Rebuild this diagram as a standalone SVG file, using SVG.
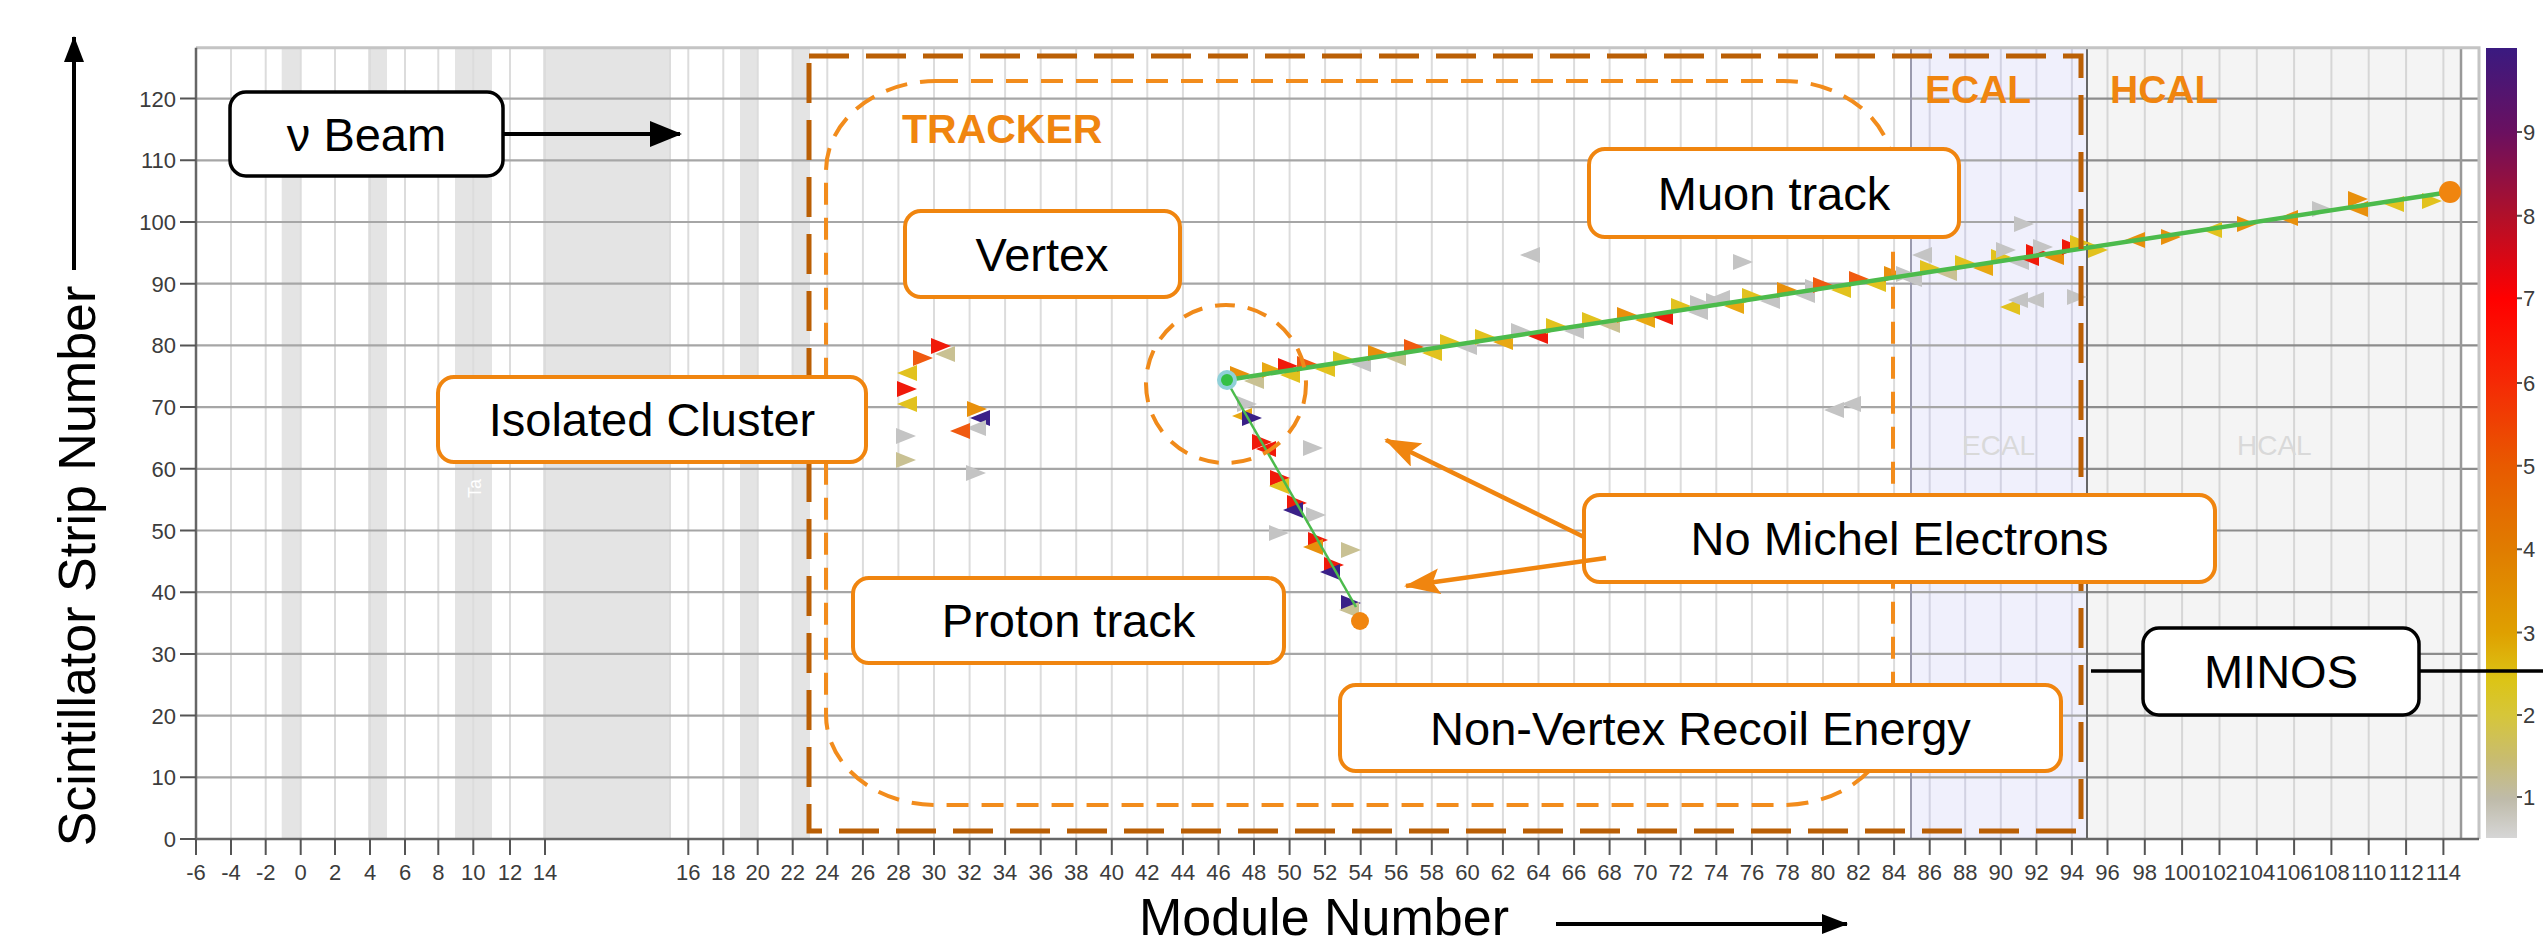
<svg xmlns="http://www.w3.org/2000/svg" width="2543" height="942" viewBox="0 0 2543 942">
<style>
.gv{stroke:#dcdcdc;stroke-width:2;fill:none}
.gh{stroke:#a6a6a6;stroke-width:2.2;fill:none}
.tk{stroke:#555;stroke-width:2;fill:none}
.tl{font-family:"Liberation Sans",Arial,sans-serif;font-size:22px;fill:#3c3c3c}
.xt{text-anchor:middle}
.yt{text-anchor:end}
.lbl{font-family:"Liberation Sans",Arial,sans-serif;font-size:47px;fill:#000;text-anchor:middle}
.ax{font-family:"Liberation Sans",Arial,sans-serif;font-size:52px;fill:#000}
.bo{fill:#fff;stroke:#f0850f;stroke-width:4}
.bk{fill:#fff;stroke:#000;stroke-width:3.5}
.reg{font-family:"Liberation Sans",Arial,sans-serif;font-weight:bold;fill:#f0850f}
.wm{font-family:"Liberation Sans",Arial,sans-serif;font-size:28px;fill:#d9d9d9}
.Y{fill:#e2c21e}.O{fill:#e8900c}.G{fill:#c4c4c4}.L{fill:#c9c193}.R{fill:#f01a0a}.D{fill:#f05a10}.P{fill:#3a2088}.A{fill:#e8a812}
</style>
<defs>
<linearGradient id="cb" x1="0" y1="0" x2="0" y2="1">
<stop offset="0" stop-color="#3a1a80"/>
<stop offset="0.106" stop-color="#6a1060"/>
<stop offset="0.212" stop-color="#b0102a"/>
<stop offset="0.317" stop-color="#ff0000"/>
<stop offset="0.424" stop-color="#f52a05"/>
<stop offset="0.529" stop-color="#e85a00"/>
<stop offset="0.634" stop-color="#e07c00"/>
<stop offset="0.74" stop-color="#dfa000"/>
<stop offset="0.80" stop-color="#dcc416"/>
<stop offset="0.845" stop-color="#d6c63a"/>
<stop offset="0.90" stop-color="#c8bc70"/>
<stop offset="0.951" stop-color="#bfbbaa"/>
<stop offset="1" stop-color="#d6d6d6"/>
</linearGradient>
<path id="tr" d="M-10,-8L10,0L-10,8Z"/>
<path id="tl" d="M10,-8L-10,0L10,8Z"/>
<marker id="ao" viewBox="0 0 36 26" refX="34" refY="13" markerWidth="36" markerHeight="26" markerUnits="userSpaceOnUse" orient="auto"><path d="M0,0L36,13L0,26L7,13Z" fill="#f0850f"/></marker>
<marker id="ak" viewBox="0 0 32 26" refX="30" refY="13" markerWidth="32" markerHeight="26" markerUnits="userSpaceOnUse" orient="auto"><path d="M0,0L32,13L0,26Z" fill="#000"/></marker>
<marker id="ak2" viewBox="0 0 26 20" refX="25" refY="10" markerWidth="26" markerHeight="20" markerUnits="userSpaceOnUse" orient="auto"><path d="M0,0L26,10L0,20Z" fill="#000"/></marker>
</defs>
<rect width="2543" height="942" fill="#fff"/>
<g id="plot-background">
<rect x="281.7" y="47.7" width="19" height="791.3" fill="#e4e4e4"/>
<rect x="368" y="47.7" width="19" height="791.3" fill="#e4e4e4"/>
<rect x="455" y="47.7" width="37" height="791.3" fill="#e4e4e4"/>
<rect x="543" y="47.7" width="127" height="791.3" fill="#e4e4e4"/>
<rect x="740" y="47.7" width="17.7" height="791.3" fill="#e4e4e4"/>
<rect x="791.7" y="47.7" width="18.3" height="791.3" fill="#e4e4e4"/>
<rect x="1911" y="47.7" width="176" height="791.3" fill="#f0f0fc"/>
<rect x="2087" y="47.7" width="374" height="791.3" fill="#f4f4f4"/>
<path class="gv" d="M231 47.7V839M265.7 47.7V839M300.7 47.7V839M335 47.7V839M370 47.7V839M405 47.7V839M438.3 47.7V839M473.3 47.7V839M510 47.7V839M545 47.7V839M670 47.7V839M688.3 47.7V839M723.3 47.7V839M757.7 47.7V839M792.7 47.7V839M827.3 47.7V839M862.9 47.7V839M898.4 47.7V839M934 47.7V839M969.6 47.7V839M1005.1 47.7V839M1040.7 47.7V839M1076.2 47.7V839M1111.8 47.7V839M1147.3 47.7V839M1182.9 47.7V839M1218.5 47.7V839M1254 47.7V839M1289.6 47.7V839M1325.1 47.7V839M1360.7 47.7V839M1396.3 47.7V839M1431.8 47.7V839M1467.4 47.7V839M1502.9 47.7V839M1538.5 47.7V839M1574.1 47.7V839M1609.6 47.7V839M1645.2 47.7V839M1680.7 47.7V839M1716.3 47.7V839M1751.9 47.7V839M1787.4 47.7V839M1823 47.7V839M1858.5 47.7V839M1894.1 47.7V839"/>
<path d="M1929.7 47.7V839M1965.2 47.7V839M2000.8 47.7V839M2036.4 47.7V839M2071.9 47.7V839" stroke="#d2d2e2" stroke-width="2"/>
<path d="M2107.5 47.7V839M2144.8 47.7V839M2182.1 47.7V839M2219.5 47.7V839M2256.8 47.7V839M2294.1 47.7V839M2331.4 47.7V839M2368.7 47.7V839M2406.1 47.7V839M2443.4 47.7V839" stroke="#d6d6d6" stroke-width="2"/>
<path class="gh" d="M196 777.3H2087M196 715.6H2087M196 653.9H2087M196 592.2H2087M196 530.5H2087M196 468.8H2087M196 407.1H2087M196 345.4H2087M196 283.7H2087M196 222H2087M196 160.3H2087M196 98.6H2087"/>
<path d="M2087 777.3H2479M2087 715.6H2479M2087 653.9H2479M2087 592.2H2479M2087 530.5H2479M2087 468.8H2479M2087 407.1H2479M2087 345.4H2479M2087 283.7H2479M2087 222H2479M2087 160.3H2479M2087 98.6H2479" stroke="#8c8c8c" stroke-width="2.2"/>
<path d="M1911 47.7V839" stroke="#9a9aae" stroke-width="2"/>
<path d="M2087 47.7V839" stroke="#666" stroke-width="2"/>
<path d="M2461 47.7V839" stroke="#999" stroke-width="2.5"/>
<path d="M196 47.7H2479V839" stroke="#c4c4c4" stroke-width="3" fill="none"/>
<path d="M196 47.7V839H2479" stroke="#666" stroke-width="2.5" fill="none"/>
<text class="wm" x="1962" y="455">ECAL</text>
<text class="wm" x="2237" y="455">HCAL</text>
<text x="481" y="498" transform="rotate(-90 481 498)" font-family="Liberation Sans, Arial, sans-serif" font-size="18" fill="#fff">Ta</text>
</g>
<g id="axes">
<path class="tk" d="M180 839H196M180 777.3H196M180 715.6H196M180 653.9H196M180 592.2H196M180 530.5H196M180 468.8H196M180 407.1H196M180 345.4H196M180 283.7H196M180 222H196M180 160.3H196M180 98.6H196"/>
<path class="tk" d="M196 839v16M231 839v16M265.7 839v16M300.7 839v16M335 839v16M370 839v16M405 839v16M438.3 839v16M473.3 839v16M510 839v16M545 839v16M688.3 839v16M723.3 839v16M757.7 839v16M792.7 839v16M827.3 839v16M862.9 839v16M898.4 839v16M934 839v16M969.6 839v16M1005.1 839v16M1040.7 839v16M1076.2 839v16M1111.8 839v16M1147.3 839v16M1182.9 839v16M1218.5 839v16M1254 839v16M1289.6 839v16M1325.1 839v16M1360.7 839v16M1396.3 839v16M1431.8 839v16M1467.4 839v16M1502.9 839v16M1538.5 839v16M1574.1 839v16M1609.6 839v16M1645.2 839v16M1680.7 839v16M1716.3 839v16M1751.9 839v16M1787.4 839v16M1823 839v16M1858.5 839v16M1894.1 839v16M1929.7 839v16M1965.2 839v16M2000.8 839v16M2036.4 839v16M2071.9 839v16M2107.5 839v16M2144.8 839v16M2182.1 839v16M2219.5 839v16M2256.8 839v16M2294.1 839v16M2331.4 839v16M2368.7 839v16M2406.1 839v16M2443.4 839v16"/>
<g class="tl yt">
<text x="176" y="847">0</text><text x="176" y="785.3">10</text><text x="176" y="723.6">20</text><text x="176" y="661.9">30</text><text x="176" y="600.2">40</text><text x="176" y="538.5">50</text><text x="176" y="476.8">60</text><text x="176" y="415.1">70</text><text x="176" y="353.4">80</text><text x="176" y="291.7">90</text><text x="176" y="230">100</text><text x="176" y="168.3">110</text><text x="176" y="106.6">120</text>
</g>
<g class="tl xt">
<text x="196" y="880">-6</text><text x="231" y="880">-4</text><text x="265.7" y="880">-2</text><text x="300.7" y="880">0</text><text x="335" y="880">2</text><text x="370" y="880">4</text><text x="405" y="880">6</text><text x="438.3" y="880">8</text><text x="473.3" y="880">10</text><text x="510" y="880">12</text><text x="545" y="880">14</text><text x="688.3" y="880">16</text><text x="723.3" y="880">18</text><text x="757.7" y="880">20</text><text x="792.7" y="880">22</text><text x="827.3" y="880">24</text><text x="862.9" y="880">26</text><text x="898.4" y="880">28</text><text x="934" y="880">30</text><text x="969.6" y="880">32</text><text x="1005.1" y="880">34</text><text x="1040.7" y="880">36</text><text x="1076.2" y="880">38</text><text x="1111.8" y="880">40</text><text x="1147.3" y="880">42</text><text x="1182.9" y="880">44</text><text x="1218.5" y="880">46</text><text x="1254" y="880">48</text><text x="1289.6" y="880">50</text><text x="1325.1" y="880">52</text><text x="1360.7" y="880">54</text><text x="1396.3" y="880">56</text><text x="1431.8" y="880">58</text><text x="1467.4" y="880">60</text><text x="1502.9" y="880">62</text><text x="1538.5" y="880">64</text><text x="1574.1" y="880">66</text><text x="1609.6" y="880">68</text><text x="1645.2" y="880">70</text><text x="1680.7" y="880">72</text><text x="1716.3" y="880">74</text><text x="1751.9" y="880">76</text><text x="1787.4" y="880">78</text><text x="1823" y="880">80</text><text x="1858.5" y="880">82</text><text x="1894.1" y="880">84</text><text x="1929.7" y="880">86</text><text x="1965.2" y="880">88</text><text x="2000.8" y="880">90</text><text x="2036.4" y="880">92</text><text x="2071.9" y="880">94</text><text x="2107.5" y="880">96</text><text x="2144.8" y="880">98</text><text x="2182.1" y="880">100</text><text x="2219.5" y="880">102</text><text x="2256.8" y="880">104</text><text x="2294.1" y="880">106</text><text x="2331.4" y="880">108</text><text x="2368.7" y="880">110</text><text x="2406.1" y="880">112</text><text x="2443.4" y="880">114</text>
</g>
<text class="ax" x="95" y="566" text-anchor="middle" transform="rotate(-90 95 566)">Scintillator Strip Number</text>
<line x1="74" y1="270" x2="74" y2="37" stroke="#000" stroke-width="4" marker-end="url(#ak2)"/>
<text class="ax" x="1139" y="935">Module Number</text>
<line x1="1556" y1="924" x2="1847" y2="924" stroke="#000" stroke-width="4" marker-end="url(#ak2)"/>
</g>
<g id="colorbar">
<rect x="2486" y="48" width="31" height="790" fill="url(#cb)"/>
<path class="tk" d="M2517 132h5M2517 215.7h5M2517 298.3h5M2517 383h5M2517 465.7h5M2517 549.3h5M2517 632.5h5M2517 715h5M2517 797h5"/>
<g class="tl">
<text x="2523" y="140">9</text><text x="2523" y="223.7">8</text><text x="2523" y="306.3">7</text><text x="2523" y="391">6</text><text x="2523" y="473.7">5</text><text x="2523" y="557.3">4</text><text x="2523" y="640.5">3</text><text x="2523" y="723">2</text><text x="2523" y="805">1</text>
</g>
</g>
<g id="hits">
<use href="#tr" x="1240" y="374" class="O"/><use href="#tl" x="1254" y="381" class="L"/><use href="#tr" x="1272" y="370" class="A"/><use href="#tl" x="1290" y="375" class="Y"/><use href="#tr" x="1288" y="366" class="R"/><use href="#tr" x="1307" y="364" class="D"/><use href="#tl" x="1325" y="369" class="Y"/><use href="#tr" x="1343" y="359" class="Y"/><use href="#tl" x="1361" y="364" class="G"/><use href="#tr" x="1378" y="353" class="O"/><use href="#tl" x="1396" y="358" class="L"/><use href="#tr" x="1414" y="347" class="D"/><use href="#tl" x="1432" y="353" class="Y"/><use href="#tr" x="1450" y="342" class="Y"/><use href="#tl" x="1467" y="347" class="G"/><use href="#tr" x="1485" y="337" class="Y"/><use href="#tl" x="1503" y="342" class="A"/><use href="#tr" x="1521" y="331" class="G"/><use href="#tl" x="1538" y="336" class="R"/><use href="#tr" x="1556" y="326" class="Y"/><use href="#tl" x="1574" y="331" class="G"/><use href="#tr" x="1592" y="320" class="Y"/><use href="#tl" x="1610" y="325" class="L"/><use href="#tr" x="1627" y="315" class="O"/><use href="#tl" x="1645" y="320" class="A"/><use href="#tl" x="1663" y="317" class="R"/><use href="#tr" x="1681" y="306" class="Y"/><use href="#tl" x="1698" y="312" class="G"/><use href="#tr" x="1700" y="303" class="G"/><use href="#tr" x="1716" y="301" class="G"/><use href="#tl" x="1720" y="298" class="G"/><use href="#tl" x="1734" y="306" class="A"/><use href="#tr" x="1752" y="296" class="Y"/><use href="#tl" x="1770" y="301" class="G"/><use href="#tr" x="1787" y="290" class="O"/><use href="#tl" x="1805" y="295" class="G"/><use href="#tr" x="1815" y="287" class="G"/><use href="#tr" x="1823" y="285" class="D"/><use href="#tl" x="1841" y="290" class="Y"/><use href="#tr" x="1859" y="279" class="D"/><use href="#tl" x="1876" y="284" class="Y"/><use href="#tr" x="1894" y="274" class="O"/><use href="#tr" x="1906" y="274" class="G"/><use href="#tl" x="1912" y="279" class="G"/><use href="#tr" x="1930" y="268" class="Y"/><use href="#tl" x="1947" y="273" class="L"/><use href="#tr" x="1965" y="263" class="Y"/><use href="#tl" x="1983" y="268" class="A"/><use href="#tr" x="2001" y="257" class="Y"/><use href="#tr" x="2006" y="250" class="G"/><use href="#tl" x="2019" y="262" class="G"/><use href="#tl" x="2029" y="258" class="R"/><use href="#tr" x="2036" y="252" class="R"/><use href="#tr" x="2043" y="247" class="G"/><use href="#tl" x="2054" y="257" class="O"/><use href="#tr" x="2072" y="247" class="R"/><use href="#tr" x="2080" y="243" class="Y"/>
<use href="#tr" x="2098" y="250" class="Y"/><use href="#tl" x="2135" y="240" class="O"/><use href="#tr" x="2171" y="237" class="O"/><use href="#tl" x="2212" y="230" class="Y"/><use href="#tr" x="2247" y="224" class="O"/><use href="#tl" x="2288" y="218" class="O"/><use href="#tr" x="2322" y="209" class="G"/><use href="#tr" x="2358" y="199" class="O"/><use href="#tl" x="2358" y="209" class="O"/><use href="#tl" x="2394" y="204" class="Y"/><use href="#tr" x="2432" y="201" class="Y"/>
<use href="#tl" x="1530" y="255" class="G"/><use href="#tr" x="1743" y="262" class="G"/><use href="#tr" x="2024" y="224" class="G"/><use href="#tl" x="2010" y="307" class="Y"/><use href="#tl" x="2018" y="300" class="G"/><use href="#tl" x="2034" y="300" class="G"/><use href="#tr" x="2077" y="297" class="G"/><use href="#tl" x="1834" y="410" class="G"/><use href="#tl" x="1851" y="404" class="G"/><use href="#tl" x="1922" y="255" class="G"/>
<use href="#tl" x="907" y="373" class="Y"/><use href="#tr" x="907" y="389" class="R"/><use href="#tl" x="907" y="404" class="Y"/><use href="#tr" x="941" y="346" class="R"/><use href="#tr" x="923" y="358" class="D"/><use href="#tl" x="945" y="354" class="L"/><use href="#tr" x="977" y="409" class="O"/><use href="#tl" x="980" y="418" class="P"/><use href="#tl" x="976" y="428" class="G"/><use href="#tl" x="960" y="431" class="D"/><use href="#tr" x="906" y="436" class="G"/><use href="#tr" x="906" y="460" class="L"/><use href="#tr" x="976" y="473" class="G"/>
<use href="#tr" x="1247" y="404" class="G"/><use href="#tl" x="1242" y="416" class="A"/><use href="#tr" x="1252" y="418" class="P"/><use href="#tr" x="1262" y="442" class="R"/><use href="#tl" x="1266" y="449" class="R"/><use href="#tr" x="1313" y="448" class="G"/><use href="#tr" x="1280" y="478" class="R"/><use href="#tl" x="1279" y="486" class="Y"/><use href="#tr" x="1297" y="503" class="R"/><use href="#tl" x="1293" y="510" class="P"/><use href="#tr" x="1316" y="515" class="G"/><use href="#tr" x="1279" y="533" class="G"/><use href="#tr" x="1318" y="540" class="R"/><use href="#tl" x="1313" y="547" class="O"/><use href="#tr" x="1351" y="550" class="L"/><use href="#tr" x="1334" y="565" class="R"/><use href="#tl" x="1330" y="572" class="P"/><use href="#tr" x="1351" y="603" class="P"/><use href="#tl" x="1349" y="610" class="L"/>
</g>
<g id="tracks">
<line x1="1227" y1="380" x2="2450" y2="192" stroke="#4cbb4c" stroke-width="4.5"/>
<line x1="1229" y1="385" x2="1356" y2="607" stroke="#4cbb4c" stroke-width="2.5"/>
<circle cx="1227" cy="380" r="10" fill="#8fd0d8"/>
<circle cx="1227" cy="380" r="6" fill="#35c045"/>
<circle cx="1360" cy="621" r="9" fill="#f0850f"/>
<circle cx="2450" cy="192" r="11" fill="#f0850f"/>
</g>
<g id="regions">
<rect x="809" y="56" width="1272" height="775" fill="none" stroke="#ba5f05" stroke-width="5" stroke-dasharray="40 17"/>
<rect id="tracker-outline" x="826" y="81" width="1067" height="724" rx="110" ry="90" fill="none" stroke="#f28c1c" stroke-width="4" stroke-dasharray="22 13"/>
<ellipse id="vertex-circle" cx="1226" cy="384" rx="80" ry="79" fill="none" stroke="#f08a1a" stroke-width="4" stroke-dasharray="20 13"/>
<text class="reg" x="902" y="143" font-size="41">TRACKER</text>
<text class="reg" x="1925" y="103" font-size="39">ECAL</text>
<text class="reg" x="2110" y="103" font-size="39">HCAL</text>
</g>
<g id="connectors">
<line x1="503" y1="134" x2="680" y2="134" stroke="#000" stroke-width="4" marker-end="url(#ak)"/>
<line x1="1584" y1="537" x2="1386" y2="440" stroke="#f0850f" stroke-width="4.5" marker-end="url(#ao)"/>
<line x1="2091" y1="671" x2="2143" y2="671" stroke="#000" stroke-width="3.5"/>
<line x1="2419" y1="671" x2="2543" y2="671" stroke="#000" stroke-width="3.5"/>
</g>
<g id="node-beam"><rect class="bk" x="230" y="92" width="273" height="84" rx="16"/><text class="lbl" x="366.5" y="150.5">ν Beam</text></g>
<g id="node-isolated"><rect class="bo" x="438" y="377" width="428" height="85" rx="16"/><text class="lbl" x="652" y="436">Isolated Cluster</text></g>
<g id="node-vertex"><rect class="bo" x="905" y="211" width="275" height="86" rx="16"/><text class="lbl" x="1042" y="270.5">Vertex</text></g>
<g id="node-muon"><rect class="bo" x="1589" y="149" width="370" height="88" rx="16"/><text class="lbl" x="1774" y="209.5">Muon track</text></g>
<g id="node-proton"><rect class="bo" x="853" y="578" width="431" height="85" rx="16"/><text class="lbl" x="1068.5" y="637">Proton track</text></g>
<g id="node-nomichel"><rect class="bo" x="1584" y="495" width="631" height="87" rx="16"/><text class="lbl" x="1899.5" y="555">No Michel Electrons</text></g>
<g id="node-nonvertex"><rect class="bo" x="1340" y="685" width="721" height="86" rx="16"/><text class="lbl" x="1700.5" y="744.5">Non-Vertex Recoil Energy</text></g>
<g id="node-minos"><rect class="bk" x="2143" y="628" width="276" height="87" rx="16"/><text class="lbl" x="2281" y="688">MINOS</text></g>
<g id="connectors-over">
<line x1="1606" y1="558" x2="1406" y2="586" stroke="#f0850f" stroke-width="4.5" marker-end="url(#ao)"/>
</g>
</svg>
